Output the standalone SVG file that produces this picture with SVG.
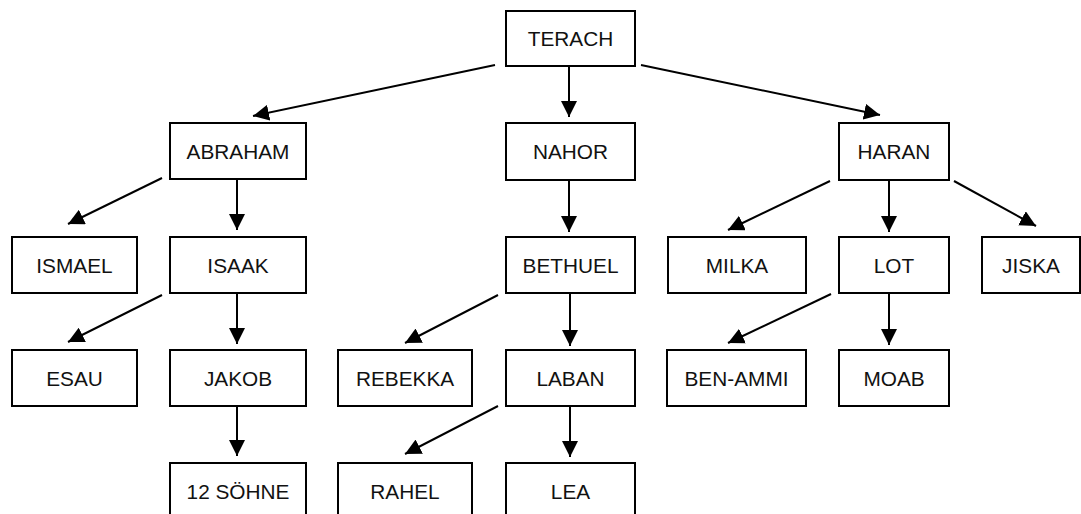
<svg xmlns="http://www.w3.org/2000/svg" width="1081" height="514" viewBox="0 0 1081 514">
<style>
.n rect{fill:#fff;stroke:#000;stroke-width:2}
.n text{font-family:"Liberation Sans",Arial,sans-serif;font-size:20.8px;fill:#111;text-anchor:middle}
#edges line{stroke:#000;stroke-width:2;marker-end:url(#ah)}
</style>
<defs>
<marker id="ah" markerUnits="userSpaceOnUse" markerWidth="16" markerHeight="16" viewBox="0 0 15 15" refX="15" refY="7.5" orient="auto">
<path d="M0,0 L15,7.5 L0,15 Z" fill="#000"/>
</marker>
</defs>
<rect width="1081" height="514" fill="#fff"/>
<g id="edges">
<line x1="495" y1="65" x2="253" y2="116"/>
<line x1="569" y1="66" x2="569" y2="117"/>
<line x1="641" y1="65" x2="880" y2="115"/>
<line x1="162" y1="178" x2="68" y2="224"/>
<line x1="237" y1="179" x2="237" y2="230"/>
<line x1="569" y1="180" x2="569" y2="232"/>
<line x1="830" y1="181" x2="728" y2="230"/>
<line x1="889" y1="180" x2="889" y2="232"/>
<line x1="954" y1="181" x2="1036" y2="226"/>
<line x1="162" y1="295" x2="68" y2="342"/>
<line x1="237" y1="293" x2="237" y2="344"/>
<line x1="498" y1="295" x2="405" y2="343"/>
<line x1="570" y1="293" x2="570" y2="346"/>
<line x1="831" y1="294" x2="728" y2="343"/>
<line x1="889" y1="293" x2="889" y2="345"/>
<line x1="237" y1="406" x2="237" y2="456"/>
<line x1="498" y1="406" x2="405" y2="454"/>
<line x1="570" y1="406" x2="570" y2="457"/>
</g>
<g id="terach" class="n"><rect x="506" y="11" width="129" height="55"/><text x="570.5" y="46">TERACH</text></g>
<g id="abraham" class="n"><rect x="170" y="123" width="136" height="56"/><text x="238" y="158.5">ABRAHAM</text></g>
<g id="nahor" class="n"><rect x="506" y="123" width="129" height="57"/><text x="570.5" y="158.5">NAHOR</text></g>
<g id="haran" class="n"><rect x="839" y="123" width="110" height="57"/><text x="894" y="158.5">HARAN</text></g>
<g id="ismael" class="n"><rect x="12" y="237" width="125" height="56"/><text x="74.5" y="272.5">ISMAEL</text></g>
<g id="isaak" class="n"><rect x="170" y="237" width="136" height="56"/><text x="238" y="272.5">ISAAK</text></g>
<g id="bethuel" class="n"><rect x="506" y="237" width="129" height="56"/><text x="570.5" y="272.5">BETHUEL</text></g>
<g id="milka" class="n"><rect x="668" y="237" width="138" height="56"/><text x="737" y="272.5">MILKA</text></g>
<g id="lot" class="n"><rect x="839" y="237" width="110" height="56"/><text x="894" y="272.5">LOT</text></g>
<g id="jiska" class="n"><rect x="982" y="237" width="98" height="56"/><text x="1031" y="272.5">JISKA</text></g>
<g id="esau" class="n"><rect x="12" y="350" width="125" height="56"/><text x="74.5" y="385.5">ESAU</text></g>
<g id="jakob" class="n"><rect x="170" y="350" width="136" height="56"/><text x="238" y="385.5">JAKOB</text></g>
<g id="rebekka" class="n"><rect x="338" y="350" width="134" height="56"/><text x="405" y="385.5">REBEKKA</text></g>
<g id="laban" class="n"><rect x="506" y="350" width="129" height="56"/><text x="570.5" y="385.5">LABAN</text></g>
<g id="benammi" class="n"><rect x="667" y="350" width="139" height="56"/><text x="736.5" y="385.5">BEN-AMMI</text></g>
<g id="moab" class="n"><rect x="839" y="350" width="110" height="56"/><text x="894" y="385.5">MOAB</text></g>
<g id="soehne" class="n"><rect x="170" y="463" width="136" height="56"/><text x="238" y="498.5">12 SÖHNE</text></g>
<g id="rahel" class="n"><rect x="338" y="463" width="134" height="56"/><text x="405" y="498.5">RAHEL</text></g>
<g id="lea" class="n"><rect x="506" y="463" width="129" height="56"/><text x="570.5" y="498.5">LEA</text></g>
</svg>
